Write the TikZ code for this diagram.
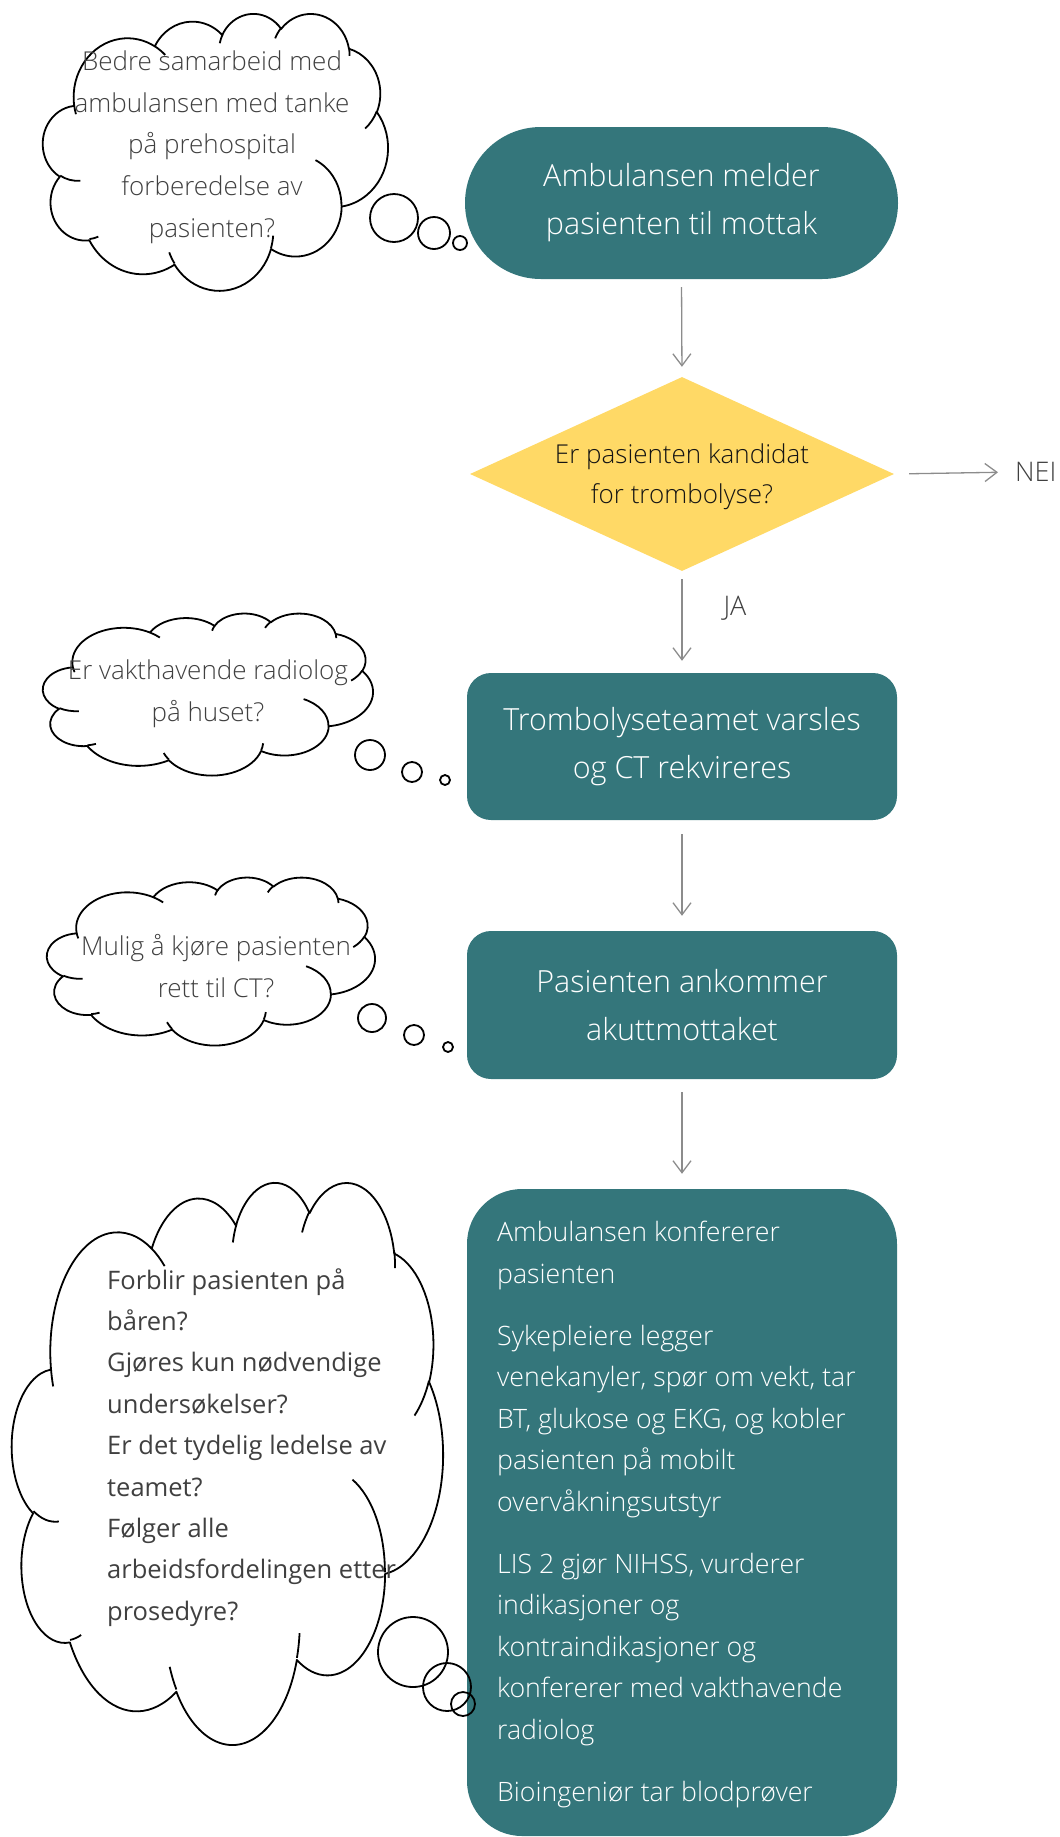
\documentclass[tikz,border=0pt]{standalone}
\usepackage{fontspec}
\IfFontExistsTF{Open Sans Light}{\newfontfamily\lightf{Open Sans Light}}{\newfontfamily\lightf{Open Sans}}
\newfontfamily\regf{Open Sans}
\usetikzlibrary{shapes.geometric,arrows.meta}
\definecolor{boxteal}{RGB}{52,118,123}
\definecolor{decyellow}{RGB}{255,217,102}
\definecolor{arrowgray}{RGB}{140,140,140}
\definecolor{cloudtxt}{RGB}{64,64,64}
\definecolor{darktxt}{RGB}{20,20,20}
% ---- cloud outline (Office preset geometry, 10800 units) ----
\newcommand\cldmove[2]{\xdef\cloudpath{\cloudpath (#1,#2)}}
\newcommand\cldarc[4]{%
  \pgfmathsetmacro\cta{atan2((#1)*sin(#3),(#2)*cos(#3))}%
  \pgfmathsetmacro\ctb{atan2((#1)*sin((#3)+(#4)),(#2)*cos((#3)+(#4)))}%
  \pgfmathsetmacro\ctd{mod(\ctb-\cta+720,360)}%
  \xdef\cloudpath{\cloudpath arc[start angle=\cta, delta angle=\ctd, x radius=#1, y radius=#2]}}
\gdef\cloudpath{}
\cldmove{975}{3592.5}
\cldarc{1688.25}{2297.5}{-190.48748}{123.78053}
\cldarc{1333.25}{1816.75}{-144.10238}{89.94523}
\cldarc{1091.25}{1486.25}{-145.80792}{99.72302}
\cldarc{1214.25}{1648.75}{-130.98607}{117.24173}
\cldarc{1333.25}{1818.25}{-78.70888}{109.02692}
\cldarc{1693.75}{2305}{-46.26725}{130.269}
\cldarc{1446.25}{1966.75}{0.62502}{114.03333}
\cldarc{1688}{2303.75}{22.4516}{115.17255}
\cldarc{1930}{2635.75}{66.24263}{75.71102}
\cldarc{1090}{1479.5}{-274.94208}{146.73557}
\cldarc{1086.25}{1486.25}{-246.8285}{152.51885}
\global\let\cloudoutline\cloudpath
\gdef\cloudpath{}
\cldmove{1173.25}{6544.25}\cldarc{1086.25}{1486.25}{86.742}{26.4295}
\cldmove{1732}{8724.75}\cldarc{1090}{1479.5}{73.61047}{11.44747}
\cldmove{4119.5}{9772.5}\cldarc{1688}{2303.75}{137.62415}{14.0811}
\cldmove{7206.75}{8687.75}\cldarc{1688}{2303.75}{6.45327}{15.99835}
\cldmove{8532.25}{5738.5}\cldarc{1446.25}{1966.75}{-70.29235}{70.9174}
\cldmove{10449.5}{3838.5}\cldarc{1333.25}{1818.25}{30.31803}{27.7515}
\cldmove{9581}{1356.5}\cldarc{1214.25}{1648.75}{-13.74433}{14.85205}
\cldmove{7269.5}{988}\cldarc{1214.25}{1648.75}{-149.18145}{18.19975}
\cldmove{5535.25}{1180}\cldarc{1091.25}{1486.25}{-163.49427}{17.69558}
\cldmove{3500}{1298}\cldarc{1688.25}{2297.5}{-66.70695}{12.31935}
\cldmove{1031.75}{3947.25}\cldarc{1688.25}{2297.5}{157.65435}{11.85817}
\global\let\cloudinner\cloudpath
\newcommand\drawcloud[4]{%
  \pgfmathsetmacro\csx{#3/10800}%
  \pgfmathsetmacro\csy{#4/10800}%
  \begin{scope}[shift={(#1,#2)}, x=\csx pt, y=-\csy pt]
    \draw[cloudline, fill=white] \cloudoutline -- cycle;
    \draw[cloudline] \cloudinner;
  \end{scope}}
\begin{document}
\begin{tikzpicture}[x=1pt,y=-1pt,
  tealbox/.style={fill=boxteal, draw=none, text=white, align=center,
    font=\lightf\fontsize{30.5}{48}\selectfont, inner sep=0},
  arr/.style={draw=arrowgray, line width=1.3pt,
    -{Straight Barb[length=12pt,width=18pt,line width=1.3pt]}},
  cloudline/.style={draw=black, line width=1.8pt, line join=round},
  bubble/.style={circle, draw=black, line width=1.8pt, inner sep=0},
  cloudtext/.style={text=cloudtxt, align=center, inner sep=0,
    font=\lightf\fontsize{26}{41.7}\selectfont},
  labeltext/.style={text=cloudtxt, inner sep=0, font=\lightf\fontsize{27}{32}\selectfont}
]
\useasboundingbox (0,0) rectangle (1060,1837);

% main flow
\node[tealbox, rounded corners=75.9pt, minimum width=433pt, minimum height=152pt]
  (b1) at (681.5,203) {Ambulansen melder\\pasienten til mottak};
\node[diamond, fill=decyellow, minimum width=424pt, minimum height=194pt, inner sep=0]
  (dec) at (682,474) {};
\node[text=darktxt, align=center, inner sep=0, font=\lightf\fontsize{26}{40}\selectfont]
  (dect) at (682,477) {Er pasienten kandidat\\for trombolyse?};
\node[tealbox, rounded corners=24pt, minimum width=430pt, minimum height=147pt]
  (b2) at (682,746.5) {Trombolyseteamet varsles\\og CT rekvireres};
\node[tealbox, rounded corners=24pt, minimum width=430pt, minimum height=148pt]
  (b3) at (682,1005) {Pasienten ankommer\\akuttmottaket};
\node[fill=boxteal, draw=none, rounded corners=55pt, minimum width=430pt, minimum height=647pt, inner sep=0]
  (b4) at (682,1512.5) {};
\node[text=white, align=left, anchor=north west, inner sep=0,
  font=\lightf\fontsize{26.7}{41.5}\selectfont] (b4t) at (497,1221)
  {Ambulansen konfererer\\pasienten\\[20.5pt]
   Sykepleiere legger\\venekanyler, spør om vekt, tar\\BT, glukose og EKG, og kobler\\pasienten på mobilt\\overvåkningsutstyr\\[20.5pt]
   LIS 2 gjør NIHSS, vurderer\\indikasjoner og\\kontraindikasjoner og\\konfererer med vakthavende\\radiolog\\[20.5pt]
   Bioingeniør tar blodprøver};

\node[labeltext, anchor=west] (nei) at (1015,472) {NEI};
\node[labeltext] (ja) at (735,608) {JA};

\draw[arr, shorten <=8pt, shorten >=10pt] (b1.south) -- (dec.north);
\draw[arr, shorten <=15pt, shorten >=17pt] (dec.east) -- (nei.west);
\draw[arr, shorten <=8pt, shorten >=12pt] (dec.south) -- (b2.north);
\draw[arr, shorten <=14pt, shorten >=15pt] (b2.south) -- (b3.north);
\draw[arr, shorten <=13pt, shorten >=15pt] (b3.south) -- (b4.north);

% cloud 1
\drawcloud{43}{13}{345}{277}
\node[cloudtext] (c1t) at (212,147)
  {Bedre samarbeid med\\ambulansen med tanke\\på prehospital\\forberedelse av\\pasienten?};
\node[bubble, minimum size=48pt] (c1a) at (394,218) {};
\node[bubble, minimum size=32pt] (c1b) at (434,233) {};
\node[bubble, minimum size=14pt] (c1c) at (460,243) {};

% cloud 2
\drawcloud{43}{613}{330}{162}
\node[cloudtext] (c2t) at (208,694) {Er vakthavende radiolog\\på huset?};
\node[bubble, minimum size=30pt] (c2a) at (370,755) {};
\node[bubble, minimum size=20pt] (c2b) at (412,772) {};
\node[bubble, minimum size=10pt] (c2c) at (445,780) {};

% cloud 3
\drawcloud{47}{877}{328}{168}
\node[cloudtext] (c3t) at (216,966) {Mulig å kjøre pasienten\\rett til CT?};
\node[bubble, minimum size=28pt] (c3a) at (372,1018) {};
\node[bubble, minimum size=20pt] (c3b) at (414,1035) {};
\node[bubble, minimum size=10pt] (c3c) at (448,1047) {};

% cloud 4
\drawcloud{12}{1181}{431}{562}
\node[text=cloudtxt, align=left, anchor=north west, inner sep=0,
  font=\regf\fontsize{25.5}{41.4}\selectfont] (c4t) at (107,1268)
  {Forblir pasienten på\\båren?\\Gjøres kun nødvendige\\undersøkelser?\\Er det tydelig ledelse av\\teamet?\\Følger alle\\arbeidsfordelingen etter\\prosedyre?};
\node[bubble, minimum size=70pt] (c4a) at (413,1652) {};
\node[bubble, minimum size=48pt] (c4b) at (447,1687) {};
\node[bubble, minimum size=24pt] (c4c) at (463,1704) {};
\end{tikzpicture}
\end{document}
